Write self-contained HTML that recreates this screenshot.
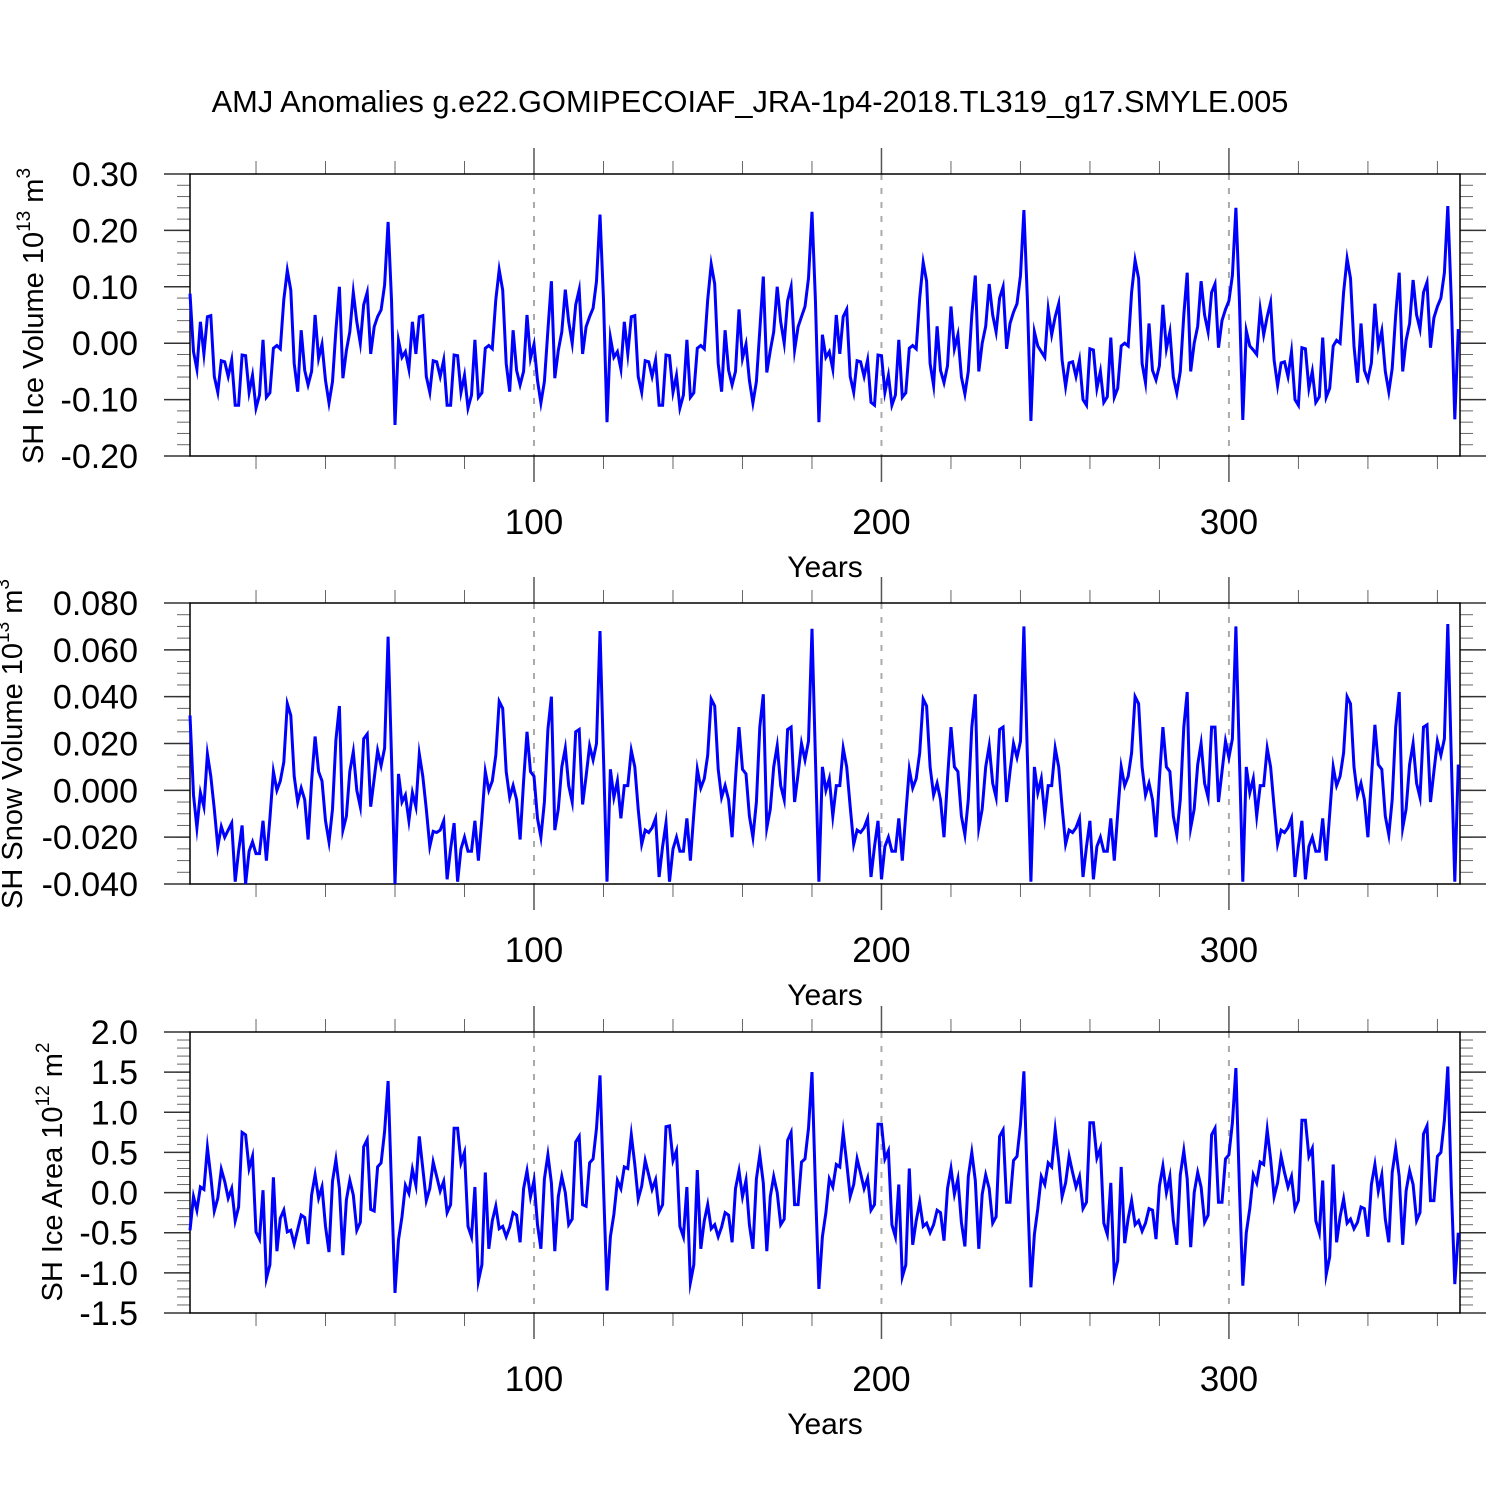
<!DOCTYPE html>
<html><head><meta charset="utf-8">
<style>
html,body{margin:0;padding:0;background:#fff;}
svg{display:block;font-family:"Liberation Sans",sans-serif;}
</style></head>
<body>
<svg id="chart" width="1500" height="1500" viewBox="0 0 1500 1500">
<text x="750" y="112" font-size="30.8" text-anchor="middle">AMJ Anomalies g.e22.GOMIPECOIAF_JRA-1p4-2018.TL319_g17.SMYLE.005</text>
</svg>
<script>
const years = [];
for (let i = 1; i <= 366; i++) years.push(i);
const xTicks = [100, 200, 300];
const xMinorTicks = [20, 40, 60, 80, 120, 140, 160, 180, 220, 240, 260, 280, 320, 340, 360];

const iceVolume = [
0.088,-0.015,-0.046,0.038,-0.019,0.047,0.049,-0.059,-0.087,-0.031,-0.033,-0.059,-0.030,-0.110,-0.110,-0.021,-0.022,-0.087,-0.057,-0.115,-0.092,0.006,-0.096,-0.088,-0.009,-0.004,-0.010,0.077,0.129,0.094,-0.036,-0.086,0.023,-0.048,-0.074,-0.050,0.050,-0.027,-0.002,-0.066,-0.106,-0.068,0.023,0.100,-0.062,-0.013,0.020,0.090,0.038,0.000,0.068,0.090,-0.019,0.029,0.047,0.059,0.103,0.215,0.077,-0.145,0.005,
-0.025,-0.015,-0.046,0.038,-0.019,0.047,0.049,-0.059,-0.087,-0.031,-0.033,-0.059,-0.030,-0.110,-0.110,-0.021,-0.022,-0.087,-0.057,-0.115,-0.092,0.006,-0.096,-0.088,-0.009,-0.004,-0.010,0.077,0.130,0.094,-0.036,-0.086,0.023,-0.048,-0.074,-0.050,0.050,-0.027,-0.002,-0.066,-0.106,-0.068,0.023,0.110,-0.062,-0.013,0.020,0.095,0.038,0.000,0.068,0.095,-0.019,0.029,0.047,0.062,0.110,0.228,0.077,-0.140,0.010,
-0.025,-0.015,-0.046,0.038,-0.019,0.047,0.049,-0.059,-0.087,-0.031,-0.033,-0.059,-0.030,-0.110,-0.110,-0.021,-0.022,-0.087,-0.057,-0.115,-0.092,0.006,-0.096,-0.088,-0.009,-0.004,-0.010,0.077,0.140,0.105,-0.036,-0.086,0.023,-0.048,-0.074,-0.050,0.060,-0.027,-0.002,-0.066,-0.106,-0.068,0.023,0.118,-0.052,-0.013,0.020,0.100,0.038,0.000,0.075,0.100,-0.012,0.029,0.047,0.065,0.115,0.233,0.077,-0.140,0.015,
-0.025,-0.015,-0.046,0.050,-0.019,0.047,0.060,-0.059,-0.087,-0.031,-0.033,-0.059,-0.030,-0.105,-0.110,-0.021,-0.022,-0.087,-0.057,-0.110,-0.092,0.006,-0.096,-0.088,-0.009,-0.004,-0.010,0.080,0.143,0.110,-0.036,-0.075,0.030,-0.048,-0.070,-0.040,0.065,-0.010,0.015,-0.060,-0.090,-0.050,0.050,0.120,-0.050,0.000,0.030,0.105,0.050,0.020,0.080,0.100,-0.010,0.035,0.055,0.070,0.120,0.236,0.077,-0.138,0.020,
-0.005,-0.015,-0.025,0.060,0.015,0.047,0.070,-0.030,-0.077,-0.035,-0.033,-0.059,-0.030,-0.100,-0.110,-0.010,-0.012,-0.080,-0.050,-0.105,-0.095,0.010,-0.096,-0.080,-0.005,0.000,-0.005,0.090,0.147,0.115,-0.036,-0.070,0.035,-0.048,-0.065,-0.040,0.068,-0.010,0.020,-0.060,-0.088,-0.050,0.050,0.125,-0.050,0.000,0.030,0.110,0.050,0.020,0.090,0.105,-0.008,0.040,0.060,0.075,0.120,0.240,0.077,-0.136,0.022,
-0.005,-0.012,-0.020,0.060,0.015,0.047,0.072,-0.030,-0.075,-0.035,-0.033,-0.059,-0.015,-0.100,-0.110,-0.008,-0.010,-0.080,-0.050,-0.105,-0.095,0.010,-0.096,-0.080,-0.005,0.005,0.000,0.090,0.150,0.115,-0.005,-0.070,0.035,-0.048,-0.065,-0.035,0.070,-0.005,0.022,-0.050,-0.086,-0.045,0.050,0.125,-0.050,0.005,0.035,0.112,0.050,0.025,0.090,0.108,-0.008,0.045,0.065,0.080,0.125,0.243,0.077,-0.135,0.025
];
const snowVolume = [
0.032,-0.002,-0.016,-0.001,-0.007,0.0155,0.006,-0.008,-0.024,-0.0155,-0.020,-0.017,-0.014,-0.039,-0.026,-0.015,-0.040,-0.026,-0.022,-0.027,-0.027,-0.013,-0.030,-0.012,0.008,0.000,0.004,0.012,0.037,0.032,0.006,-0.005,0.001,-0.004,-0.021,0.004,0.023,0.008,0.004,-0.013,-0.022,-0.008,0.0215,0.036,-0.017,-0.011,0.008,0.0165,0.000,-0.007,0.022,0.024,-0.007,0.005,0.017,0.0105,0.018,0.0656,0.014,-0.040,0.007,
-0.005,-0.002,-0.013,-0.001,-0.007,0.0155,0.006,-0.008,-0.024,-0.0175,-0.018,-0.017,-0.013,-0.038,-0.025,-0.014,-0.039,-0.025,-0.020,-0.026,-0.026,-0.013,-0.030,-0.012,0.008,0.000,0.004,0.015,0.038,0.035,0.008,-0.003,0.002,-0.004,-0.021,0.004,0.025,0.008,0.006,-0.012,-0.020,-0.005,0.026,0.040,-0.017,-0.008,0.010,0.018,0.002,-0.005,0.025,0.026,-0.006,0.006,0.019,0.013,0.020,0.068,0.014,-0.039,0.009,
-0.003,0.004,-0.012,0.002,0.002,0.017,0.010,-0.008,-0.023,-0.017,-0.018,-0.016,-0.012,-0.037,-0.024,-0.014,-0.039,-0.025,-0.020,-0.026,-0.026,-0.012,-0.030,-0.010,0.009,0.001,0.005,0.015,0.039,0.036,0.009,-0.003,0.002,-0.004,-0.020,0.005,0.027,0.009,0.007,-0.011,-0.020,-0.005,0.027,0.041,-0.016,-0.008,0.010,0.019,0.002,-0.004,0.026,0.027,-0.005,0.007,0.020,0.013,0.021,0.069,0.014,-0.039,0.010,
0.000,0.005,-0.011,0.002,0.002,0.018,0.010,-0.007,-0.023,-0.017,-0.018,-0.016,-0.012,-0.037,-0.024,-0.013,-0.038,-0.024,-0.020,-0.026,-0.026,-0.012,-0.030,-0.010,0.009,0.001,0.005,0.016,0.039,0.036,0.010,-0.002,0.003,-0.004,-0.020,0.005,0.027,0.010,0.008,-0.011,-0.019,-0.004,0.027,0.041,-0.016,-0.008,0.010,0.019,0.003,-0.003,0.026,0.027,-0.005,0.008,0.020,0.014,0.021,0.070,0.014,-0.039,0.010,
-0.001,0.005,-0.011,0.002,0.002,0.018,0.010,-0.007,-0.023,-0.017,-0.018,-0.016,-0.012,-0.037,-0.024,-0.013,-0.038,-0.024,-0.020,-0.026,-0.026,-0.012,-0.030,-0.010,0.010,0.002,0.006,0.016,0.040,0.037,0.010,-0.002,0.003,-0.004,-0.020,0.005,0.027,0.010,0.008,-0.011,-0.019,-0.004,0.027,0.042,-0.016,-0.008,0.011,0.020,0.003,-0.003,0.027,0.027,-0.005,0.008,0.021,0.014,0.022,0.070,0.014,-0.039,0.010,
-0.001,0.005,-0.011,0.002,0.002,0.018,0.010,-0.007,-0.023,-0.017,-0.018,-0.016,-0.012,-0.037,-0.024,-0.013,-0.038,-0.024,-0.020,-0.026,-0.026,-0.012,-0.030,-0.010,0.010,0.002,0.006,0.016,0.040,0.037,0.010,-0.002,0.003,-0.004,-0.020,0.005,0.028,0.011,0.009,-0.011,-0.019,-0.004,0.027,0.042,-0.016,-0.008,0.011,0.020,0.003,-0.003,0.027,0.028,-0.005,0.008,0.021,0.015,0.022,0.071,0.014,-0.039,0.011
];
const iceArea = [
-0.47,-0.05,-0.22,0.07,0.04,0.56,0.20,-0.23,-0.07,0.29,0.14,-0.07,0.05,-0.35,-0.18,0.75,0.72,0.30,0.45,-0.49,-0.58,0.03,-1.07,-0.90,0.19,-0.73,-0.32,-0.22,-0.49,-0.47,-0.64,-0.46,-0.28,-0.31,-0.64,-0.03,0.22,-0.07,0.07,-0.42,-0.74,0.14,0.41,0.05,-0.78,-0.09,0.15,-0.03,-0.47,-0.37,0.57,0.66,-0.21,-0.23,0.32,0.37,0.76,1.39,0.07,-1.25,-0.59,
-0.30,0.09,-0.01,0.29,0.09,0.70,0.30,-0.10,0.05,0.38,0.20,0.02,0.14,-0.25,-0.15,0.80,0.80,0.37,0.50,-0.42,-0.55,0.07,-1.10,-0.90,0.25,-0.70,-0.35,-0.17,-0.45,-0.42,-0.55,-0.43,-0.25,-0.28,-0.62,0.05,0.27,-0.05,0.15,-0.40,-0.70,0.17,0.47,0.12,-0.73,-0.05,0.20,0.00,-0.40,-0.33,0.63,0.70,-0.15,-0.17,0.37,0.42,0.80,1.46,0.07,-1.22,-0.55,
-0.27,0.15,0.05,0.32,0.30,0.72,0.35,-0.08,0.08,0.40,0.22,0.04,0.16,-0.24,-0.15,0.82,0.83,0.40,0.52,-0.42,-0.55,0.07,-1.12,-0.90,0.28,-0.70,-0.35,-0.15,-0.45,-0.40,-0.55,-0.43,-0.25,-0.28,-0.62,0.05,0.27,-0.05,0.15,-0.40,-0.70,0.17,0.47,0.12,-0.73,-0.05,0.20,0.00,-0.40,-0.33,0.65,0.75,-0.15,-0.15,0.38,0.42,0.80,1.50,0.07,-1.20,-0.55,
-0.25,0.17,0.07,0.35,0.32,0.75,0.37,-0.05,0.10,0.42,0.24,0.05,0.18,-0.22,-0.15,0.85,0.85,0.42,0.52,-0.40,-0.55,0.10,-1.05,-0.90,0.30,-0.65,-0.35,-0.12,-0.42,-0.38,-0.50,-0.40,-0.22,-0.25,-0.60,0.05,0.30,-0.02,0.17,-0.37,-0.67,0.20,0.50,0.15,-0.70,-0.02,0.22,0.05,-0.38,-0.30,0.70,0.78,-0.12,-0.12,0.40,0.45,0.85,1.51,0.07,-1.18,-0.52,
-0.20,0.20,0.10,0.37,0.32,0.78,0.40,-0.05,0.12,0.45,0.25,0.07,0.20,-0.20,-0.12,0.87,0.87,0.43,0.55,-0.38,-0.52,0.12,-1.03,-0.85,0.32,-0.63,-0.32,-0.10,-0.40,-0.35,-0.48,-0.38,-0.20,-0.22,-0.58,0.08,0.33,0.00,0.20,-0.35,-0.65,0.22,0.52,0.17,-0.68,0.00,0.25,0.07,-0.37,-0.28,0.72,0.80,-0.12,-0.12,0.42,0.47,0.87,1.55,0.07,-1.16,-0.50,
-0.20,0.22,0.12,0.38,0.35,0.78,0.42,-0.05,0.12,0.45,0.25,0.07,0.20,-0.20,-0.10,0.90,0.90,0.45,0.55,-0.35,-0.50,0.15,-1.02,-0.80,0.35,-0.62,-0.30,-0.08,-0.38,-0.33,-0.45,-0.37,-0.18,-0.20,-0.55,0.10,0.35,0.02,0.22,-0.33,-0.62,0.25,0.55,0.20,-0.65,0.02,0.27,0.10,-0.35,-0.25,0.73,0.83,-0.10,-0.10,0.45,0.50,0.90,1.57,0.07,-1.14,-0.50
];

const volTicks = [0.30, 0.20, 0.10, 0.00, -0.10, -0.20];
const volTickLabels = ["0.30", "0.20", "0.10", "0.00", "-0.10", "-0.20"];
const snowTicks = [0.080, 0.060, 0.040, 0.020, 0.000, -0.020, -0.040];
const snowTickLabels = ["0.080", "0.060", "0.040", "0.020", "0.000", "-0.020", "-0.040"];
const areaTicks = [2.0, 1.5, 1.0, 0.5, 0.0, -0.5, -1.0, -1.5];
const areaTickLabels = ["2.0", "1.5", "1.0", "0.5", "0.0", "-0.5", "-1.0", "-1.5"];

const NS = "http://www.w3.org/2000/svg";
const svg = document.getElementById("chart");
const X0 = 190, X1 = 1460, XMIN = 1, XMAX = 366.5;
function xScale(v) { return X0 + (v - XMIN) / (XMAX - XMIN) * (X1 - X0); }

function mk(tag, attrs, parent) {
  const e = document.createElementNS(NS, tag);
  for (const k in attrs) e.setAttribute(k, attrs[k]);
  (parent || svg).appendChild(e);
  return e;
}

function panel(cfg) {
  const g = mk("g", {});
  
  
  const yScale = v => cfg.top + (cfg.ymax - v) / (cfg.ymax - cfg.ymin) * (cfg.bottom - cfg.top);
  xTicks.forEach(t => {
    const l = mk("line", {x1: xScale(t), x2: xScale(t), y1: cfg.top, y2: cfg.bottom, stroke: "#aaa", "stroke-width": 2, "stroke-dasharray": "6,8"}, g);
    
    
  });
  xTicks.forEach(t => {
    const x = xScale(t);
    const a = mk("line", {x1: x, x2: x, y1: cfg.top - 26, y2: cfg.top, stroke: "#555", "stroke-width": 1.5}, g);
    
    
    const b = mk("line", {x1: x, x2: x, y1: cfg.bottom, y2: cfg.bottom + 26, stroke: "#555", "stroke-width": 1.5}, g);
    
    
    const lab = mk("text", {x: x, y: cfg.bottom + 78, "font-size": 35, "text-anchor": "middle"}, g);
    lab.textContent = String(t);
    
    
  });
  xMinorTicks.forEach(t => {
    const x = xScale(t);
    const a = mk("line", {x1: x, x2: x, y1: cfg.top - 13, y2: cfg.top, stroke: "#666", "stroke-width": 1}, g);
    
    
    const b = mk("line", {x1: x, x2: x, y1: cfg.bottom, y2: cfg.bottom + 13, stroke: "#666", "stroke-width": 1}, g);
    
    
  });
  for (let v = cfg.ymin; v <= cfg.ymax + 1e-9; v += cfg.minor) {
    const y = yScale(v);
    const l = mk("line", {x1: X0 - 13, x2: X0, y1: y, y2: y, stroke: "#666", "stroke-width": 1}, g);
    
    
    const r = mk("line", {x1: X1, x2: X1 + 13, y1: y, y2: y, stroke: "#666", "stroke-width": 1}, g);
    
    
  }
  cfg.ticks.forEach((v, i) => {
    const y = yScale(v);
    const l = mk("line", {x1: X0 - 26, x2: X0, y1: y, y2: y, stroke: "#333", "stroke-width": 1.5}, g);
    
    
    const r = mk("line", {x1: X1, x2: X1 + 26, y1: y, y2: y, stroke: "#333", "stroke-width": 1.5}, g);
    
    
    const lab = mk("text", {x: 138, y: y + 12, "font-size": 34, "text-anchor": "end"}, g);
    lab.textContent = cfg.labels[i];
    
    
  });
  const f = mk("rect", {x: X0, y: cfg.top, width: X1 - X0, height: cfg.bottom - cfg.top, fill: "none", stroke: "#000", "stroke-width": 1.5}, g);
  
  
  const pts = cfg.values.map((v, i) => xScale(years[i]).toFixed(1) + "," + yScale(v).toFixed(1)).join(" ");
  const pl = mk("polyline", {points: pts, fill: "none", stroke: "#0000ff", "stroke-width": 3, "stroke-linejoin": "miter", "stroke-miterlimit": 10}, g);
  
  
  const xt = mk("text", {x: 825, y: cfg.bottom + 121, "font-size": 30, "text-anchor": "middle"}, g);
  xt.textContent = "Years";
  
  
  const cy = cfg.titleY;
  const yt = mk("text", {x: cfg.titleX, y: cy, "font-size": 29, "text-anchor": "middle", transform: "rotate(-90 " + cfg.titleX + " " + cy + ")"}, g);
  yt.innerHTML = cfg.title;
  
  
}

panel({name: "ice-volume-panel", seriesName: "ice-volume-line", top: 174, bottom: 456, ymin: -0.20, ymax: 0.30, minor: 0.02,
  ticks: volTicks, labels: volTickLabels, values: iceVolume, titleX: 43, titleY: 316,
  title: 'SH Ice Volume 10<tspan dy="-13" font-size="19">13</tspan><tspan dy="13"> m</tspan><tspan dy="-13" font-size="19">3</tspan>'});
panel({name: "snow-volume-panel", seriesName: "snow-volume-line", top: 603, bottom: 884, ymin: -0.040, ymax: 0.080, minor: 0.005,
  ticks: snowTicks, labels: snowTickLabels, values: snowVolume, titleX: 22, titleY: 744,
  title: 'SH Snow Volume 10<tspan dy="-13" font-size="19">13</tspan><tspan dy="13"> m</tspan><tspan dy="-13" font-size="19">3</tspan>'});
panel({name: "ice-area-panel", seriesName: "ice-area-line", top: 1032, bottom: 1313, ymin: -1.5, ymax: 2.0, minor: 0.1,
  ticks: areaTicks, labels: areaTickLabels, values: iceArea, titleX: 62, titleY: 1172,
  title: 'SH Ice Area 10<tspan dy="-13" font-size="19">12</tspan><tspan dy="13"> m</tspan><tspan dy="-13" font-size="19">2</tspan>'});
</script>
</body></html>
